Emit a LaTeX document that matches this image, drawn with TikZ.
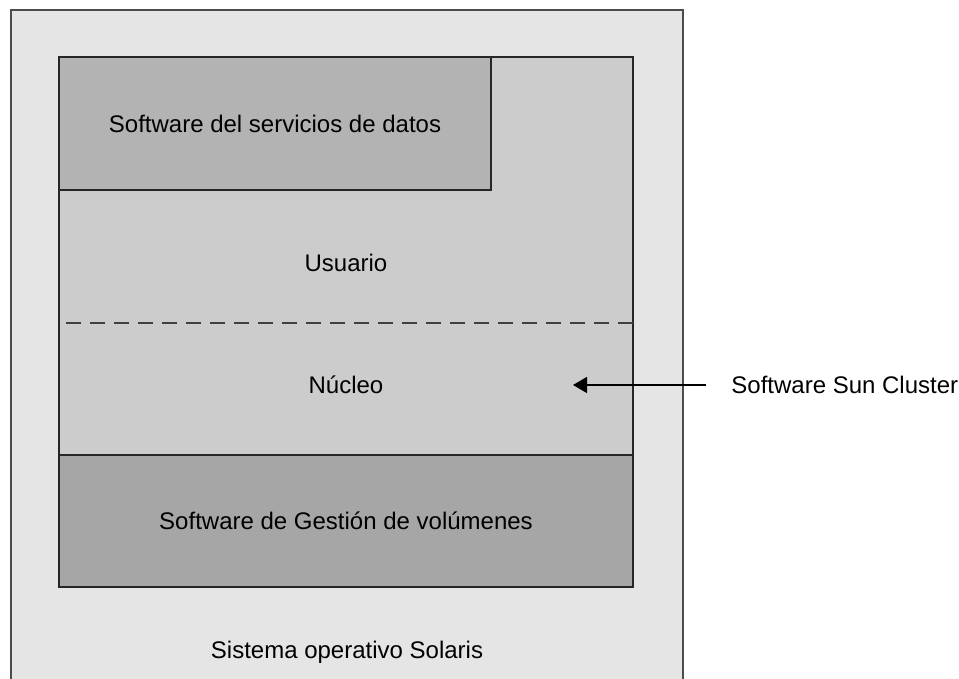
\documentclass[tikz,border=0pt]{standalone}
\usepackage{fontspec}
\setmainfont{Liberation Sans}
\usetikzlibrary{positioning,arrows.meta}
\definecolor{osfill}{HTML}{E5E5E5}
\definecolor{clusterfill}{HTML}{CCCCCC}
\definecolor{datafill}{HTML}{B3B3B3}
\definecolor{volfill}{HTML}{A6A6A6}

\begin{document}
\begin{tikzpicture}[x=0.5pt,y=-0.5pt,every node/.style={font=\fontsize{12}{14}\selectfont}]
    \tikzstyle{layer}=[draw=black!85,line width=0.7pt];
    \tikzstyle{lbl}=[inner sep=1pt];
    \useasboundingbox (0,0) rectangle (959,679);
    % --- Solaris OS ---
    \draw[fill=osfill,draw=black!70,line width=1pt] (11,10) rectangle (683,700);
    \node[lbl] (os) at (347,652) {Sistema operativo Solaris};
    % --- cluster: user + kernel ---
    \draw[layer,fill=clusterfill] (59,57) rectangle (633,455);
    \draw[dashed,dash pattern=on 7.5pt off 4.5pt,black!75,line width=0.7pt] (66,323) -- (633,323);
    \node[lbl] (user)   at (346,263) {Usuario};
    \node[lbl] (kernel) at (346,385) {Núcleo};
    % --- data services ---
    \draw[layer,fill=datafill] (59,57) rectangle (491,190);
    \node[lbl] (data) at (275,124) {Software del servicios de datos};
    % --- volume manager ---
    \draw[layer,fill=volfill] (59,455) rectangle (633,587);
    \node[lbl] (vol) at (346,521) {Software de Gestión de volúmenes};
    % --- callout ---
    \node[lbl,anchor=west] (sun) at (729,385) {Software Sun Cluster};
    \coordinate (tail) at (706,385);
    \coordinate (tip)  at (573,385);
    \draw[-{Triangle[length=7pt,width=8pt]},line width=0.6pt] (tail) -- (tip);
\end{tikzpicture}
\end{document}
